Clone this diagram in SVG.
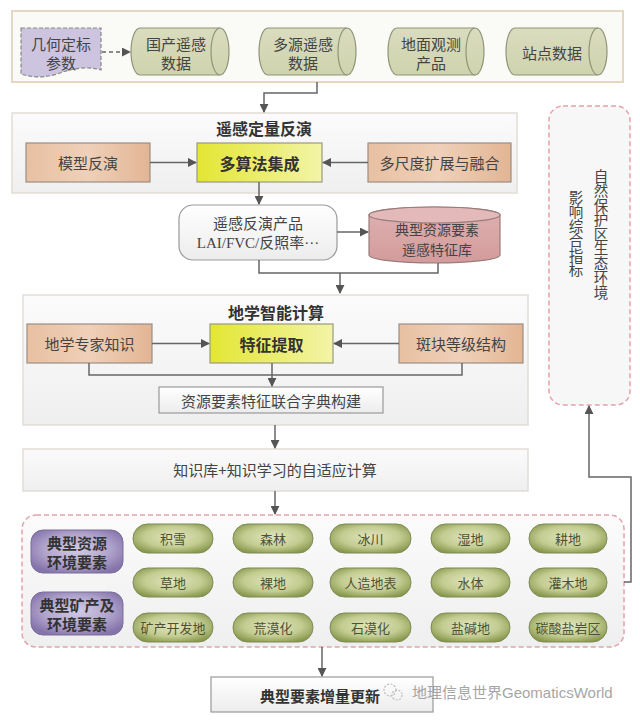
<svg xmlns="http://www.w3.org/2000/svg" width="640" height="720" viewBox="0 0 640 720">
<defs>
<style>
text{font-family:"Noto Sans CJK SC","Noto Sans",sans-serif;fill:#444;text-anchor:middle;dominant-baseline:central;}
.t15{font-size:15px;}
.t14{font-size:14px;}
.t13{font-size:13px;fill:#4d5236;}
.b{font-weight:bold;fill:#333;}
.title{font-size:16px;font-weight:bold;fill:#333;}
.panel{fill:url(#gPanel);stroke:#e2ddd6;stroke-width:1.5;}
.cyl{fill:url(#gCyl);stroke:#8f9478;stroke-width:1.2;}
.cylin{fill:none;stroke:#8f9478;stroke-width:1.2;}
.orange{fill:url(#gOrange);stroke:#9a8e86;stroke-width:1.2;}
.yellow{fill:url(#gYellow);stroke:#9a9a80;stroke-width:1.2;}
.white{fill:url(#gWhite);stroke:#999;stroke-width:1.2;}
.pill{fill:url(#gPill);stroke:#7d8a55;stroke-width:1;}
.purple{fill:url(#gPurple);stroke:#7a6e98;stroke-width:1;}
.dash{fill:url(#gPanel);stroke:#e3a3aa;stroke-width:1.5;stroke-dasharray:5 3;}
.conn{fill:none;stroke:#666;stroke-width:1.5;}
.vt{font-size:14.5px;writing-mode:vertical-rl;text-anchor:start;dominant-baseline:auto;}
</style>
<linearGradient id="gPanel" x1="0" y1="0" x2="0" y2="1"><stop offset="0" stop-color="#fbfbfb"/><stop offset="1" stop-color="#efefef"/></linearGradient>
<linearGradient id="gCyl" x1="0" y1="0" x2="0" y2="1"><stop offset="0" stop-color="#dadcbf"/><stop offset="1" stop-color="#cfd3ad"/></linearGradient>
<linearGradient id="gOrange" x1="0" y1="0" x2="1" y2="0"><stop offset="0" stop-color="#e8c0a2"/><stop offset="0.5" stop-color="#efd0b8"/><stop offset="1" stop-color="#e2b594"/></linearGradient>
<linearGradient id="gYellow" x1="0" y1="0" x2="1" y2="0"><stop offset="0" stop-color="#e3e632"/><stop offset="1" stop-color="#f3f4a8"/></linearGradient>
<linearGradient id="gWhite" x1="0" y1="0" x2="0" y2="1"><stop offset="0" stop-color="#ffffff"/><stop offset="1" stop-color="#ececec"/></linearGradient>
<linearGradient id="gPink" x1="0" y1="0" x2="0" y2="1"><stop offset="0" stop-color="#dfb1b1"/><stop offset="1" stop-color="#d39b9b"/></linearGradient>
<radialGradient id="gPill" cx="0.5" cy="0.45" r="0.6"><stop offset="0" stop-color="#e2e6bf"/><stop offset="0.6" stop-color="#c3cc91"/><stop offset="1" stop-color="#89994e"/></radialGradient>
<radialGradient id="gPurple" cx="0.5" cy="0.45" r="0.6"><stop offset="0" stop-color="#d2cae4"/><stop offset="0.6" stop-color="#b0a4cc"/><stop offset="1" stop-color="#8574ab"/></radialGradient>
<marker id="arr" viewBox="0 0 10 10" refX="9" refY="5" markerWidth="6" markerHeight="6" orient="auto-start-reverse"><path d="M0,0 L10,5 L0,10 Z" fill="#555"/></marker>
</defs>
<rect width="640" height="720" fill="#ffffff"/>

<!-- panels -->
<g id="panel-input"><rect x="12" y="11" width="611" height="71" fill="#fafaf7" stroke="#e4d7c3" stroke-width="2"/></g>
<g id="panel-inversion"><rect class="panel" x="12" y="113" width="505" height="80"/><text class="title" x="264" y="128">遥感定量反演</text></g>
<g id="panel-geo"><rect class="panel" x="23" y="295" width="505" height="130"/><text class="title" x="276" y="312">地学智能计算</text></g>
<g id="panel-adaptive"><rect class="panel" x="23" y="449" width="505" height="42"/><text class="t15" x="275" y="469">知识库+知识学习的自适应计算</text></g>

<!-- inputs -->
<g id="n-geometric"><path d="M21,28 H101 V70 C88,66 74,68 60,73 C46,78 33,78 21,74 Z" fill="#cdc4e0" stroke="#888" stroke-width="1.2" stroke-dasharray="4 2"/><text class="t15" x="61" y="43">几何定标</text><text class="t15" x="61" y="62">参数</text></g>
<g id="n-domestic"><path class="cyl" d="M140,28 H220 A9,23.5 0 0 1 220,75 H140 A9,23.5 0 0 1 140,28 Z"/><path class="cylin" d="M220,28 A9,23.5 0 0 0 220,75"/><text class="t15" x="176" y="43">国产遥感</text><text class="t15" x="176" y="62">数据</text></g>
<g id="n-multisource"><path class="cyl" d="M268,28 H347 A9,23.5 0 0 1 347,75 H268 A9,23.5 0 0 1 268,28 Z"/><path class="cylin" d="M347,28 A9,23.5 0 0 0 347,75"/><text class="t15" x="303" y="43">多源遥感</text><text class="t15" x="303" y="62">数据</text></g>
<g id="n-ground"><path class="cyl" d="M397,28 H475 A9,23.5 0 0 1 475,75 H397 A9,23.5 0 0 1 397,28 Z"/><path class="cylin" d="M475,28 A9,23.5 0 0 0 475,75"/><text class="t15" x="431" y="43">地面观测</text><text class="t15" x="431" y="62">产品</text></g>
<g id="n-station"><path class="cyl" d="M515,28 H598 A9,23.5 0 0 1 598,75 H515 A9,23.5 0 0 1 515,28 Z"/><path class="cylin" d="M598,28 A9,23.5 0 0 0 598,75"/><text class="t15" x="552" y="52">站点数据</text></g>

<!-- inversion -->
<g id="n-model"><rect class="orange" x="26" y="143" width="124" height="39"/><text class="t15" x="88" y="162.5">模型反演</text></g>
<g id="n-multialgo"><rect class="yellow" x="197" y="143" width="125" height="39"/><text class="title b" x="259.5" y="162.5">多算法集成</text></g>
<g id="n-multiscale"><rect class="orange" x="368" y="143" width="143" height="39"/><text class="t15" x="439.5" y="162.5">多尺度扩展与融合</text></g>
<g id="n-products"><rect class="white" x="179" y="205" width="158" height="55" rx="14"/><text class="t15" x="258" y="222">遥感反演产品</text><text class="t15" x="258" y="243" style="font-family:'Liberation Serif','Noto Sans CJK SC',serif">LAI/FVC/反照率···</text></g>
<g id="n-featurelib"><path d="M369,215 A65.5,8 0 0 1 500,215 V255 A65.5,8 0 0 1 369,255 Z" fill="url(#gPink)" stroke="#9a7b7b" stroke-width="1.2"/><ellipse cx="434.5" cy="215" rx="65.5" ry="8" fill="#e3b9b9" stroke="#9a7b7b" stroke-width="1.2"/><text class="t14" x="437" y="229">典型资源要素</text><text class="t14" x="437" y="249">遥感特征库</text></g>

<!-- geo computing -->
<g id="n-expert"><rect class="orange" x="27" y="324" width="125" height="39"/><text class="t15" x="89.5" y="343.5">地学专家知识</text></g>
<g id="n-extract"><rect class="yellow" x="210" y="324" width="123" height="39"/><text class="title b" x="271.5" y="343.5">特征提取</text></g>
<g id="n-patch"><rect class="orange" x="399" y="324" width="124" height="39"/><text class="t15" x="461" y="343.5">斑块等级结构</text></g>
<g id="n-dict"><rect class="white" x="159" y="387" width="224" height="26"/><text class="t15" x="271" y="400">资源要素特征联合字典构建</text></g>

<!-- elements -->
<g id="panel-elements"><rect class="dash" x="22" y="515" width="602" height="132" rx="14"/></g>
<g id="n-typ-res"><rect class="purple" x="31" y="530" width="92" height="43" rx="12"/><text class="t15 b" x="77" y="542">典型资源</text><text class="t15 b" x="77" y="561">环境要素</text></g>
<g id="n-typ-min"><rect class="purple" x="31" y="592" width="92" height="43" rx="12"/><text class="t15 b" x="77" y="604">典型矿产及</text><text class="t15 b" x="77" y="623">环境要素</text></g>
<g id="n-snow"><rect class="pill" x="133" y="524" width="80" height="29" rx="14.5"/><text class="t13" x="173" y="538.5">积雪</text></g>
<g id="n-forest"><rect class="pill" x="233" y="524" width="80" height="29" rx="14.5"/><text class="t13" x="273" y="538.5">森林</text></g>
<g id="n-glacier"><rect class="pill" x="330" y="524" width="81" height="29" rx="14.5"/><text class="t13" x="370.5" y="538.5">冰川</text></g>
<g id="n-wetland"><rect class="pill" x="431" y="524" width="79" height="29" rx="14.5"/><text class="t13" x="470.5" y="538.5">湿地</text></g>
<g id="n-cropland"><rect class="pill" x="529" y="524" width="78" height="29" rx="14.5"/><text class="t13" x="568" y="538.5">耕地</text></g>
<g id="n-grass"><rect class="pill" x="133" y="568" width="80" height="29" rx="14.5"/><text class="t13" x="173" y="582.5">草地</text></g>
<g id="n-bare"><rect class="pill" x="233" y="568" width="80" height="29" rx="14.5"/><text class="t13" x="273" y="582.5">裸地</text></g>
<g id="n-artificial"><rect class="pill" x="330" y="568" width="81" height="29" rx="14.5"/><text class="t13" x="370.5" y="582.5">人造地表</text></g>
<g id="n-water"><rect class="pill" x="431" y="568" width="79" height="29" rx="14.5"/><text class="t13" x="470.5" y="582.5">水体</text></g>
<g id="n-shrub"><rect class="pill" x="529" y="568" width="78" height="29" rx="14.5"/><text class="t13" x="568" y="582.5">灌木地</text></g>
<g id="n-mining"><rect class="pill" x="133" y="613" width="80" height="29" rx="14.5"/><text class="t13" x="173" y="627.5">矿产开发地</text></g>
<g id="n-desert"><rect class="pill" x="233" y="613" width="80" height="29" rx="14.5"/><text class="t13" x="273" y="627.5">荒漠化</text></g>
<g id="n-rocky"><rect class="pill" x="330" y="613" width="81" height="29" rx="14.5"/><text class="t13" x="370.5" y="627.5">石漠化</text></g>
<g id="n-saline"><rect class="pill" x="431" y="613" width="79" height="29" rx="14.5"/><text class="t13" x="470.5" y="627.5">盐碱地</text></g>
<g id="n-karst"><rect class="pill" x="529" y="613" width="78" height="29" rx="14.5"/><text class="t13" x="568" y="627.5">碳酸盐岩区</text></g>

<!-- index -->
<g id="n-index"><rect x="549" y="106" width="81" height="299" rx="14" fill="#f7f7f7" stroke="#e3a3aa" stroke-width="1.5" stroke-dasharray="5 3"/>
<text class="vt" x="601" y="169">自然保护区生态环境</text>
<text class="vt" x="576" y="190">影响综合指标</text></g>

<!-- update -->
<g id="n-update"><rect class="white" x="211" y="677" width="222" height="35"/><text class="t15 b" x="320" y="695">典型要素增量更新</text></g>

<!-- connectors -->
<g id="connectors">
<line x1="102" y1="52" x2="130" y2="52" class="conn" stroke-dasharray="4 3" marker-end="url(#arr)"/>
<polyline class="conn" points="317,82 317,93 264,93 264,112" marker-end="url(#arr)"/>
<line class="conn" x1="150" y1="162.5" x2="196" y2="162.5" marker-end="url(#arr)"/>
<line class="conn" x1="368" y1="162.5" x2="323" y2="162.5" marker-end="url(#arr)"/>
<line class="conn" x1="259" y1="182" x2="259" y2="204" marker-end="url(#arr)"/>
<line class="conn" x1="337" y1="232" x2="368" y2="232" marker-end="url(#arr)"/>
<polyline class="conn" points="259,260 259,273 438,273 438,263"/>
<line class="conn" x1="340" y1="273" x2="340" y2="293" marker-end="url(#arr)"/>
<line class="conn" x1="152" y1="343.5" x2="209" y2="343.5" marker-end="url(#arr)"/>
<line class="conn" x1="399" y1="343.5" x2="334" y2="343.5" marker-end="url(#arr)"/>
<polyline class="conn" points="89,363 89,375 462,375 462,363"/>
<line class="conn" x1="272" y1="363" x2="272" y2="386" marker-end="url(#arr)"/>
<line class="conn" x1="275" y1="425" x2="275" y2="448" marker-end="url(#arr)"/>
<line class="conn" x1="275" y1="491" x2="275" y2="514" marker-end="url(#arr)"/>
<polyline class="conn" points="624,582 631,582 631,477 589,477 589,406" marker-end="url(#arr)"/>
<line class="conn" x1="322" y1="647" x2="322" y2="676" marker-end="url(#arr)"/>
</g>

<!-- watermark -->
<g id="watermark" opacity="0.75">
<circle cx="390" cy="690" r="6" fill="none" stroke="#aaa" stroke-width="1.2" stroke-dasharray="2 1.5"/>
<circle cx="397" cy="695" r="5" fill="none" stroke="#aaa" stroke-width="1.2" stroke-dasharray="2 1.5"/>
<text x="412" y="692" style="font-size:15px;font-family:'Liberation Sans','Noto Sans CJK SC',sans-serif;fill:#888;text-anchor:start">地理信息世界GeomaticsWorld</text>
</g>
</svg>
